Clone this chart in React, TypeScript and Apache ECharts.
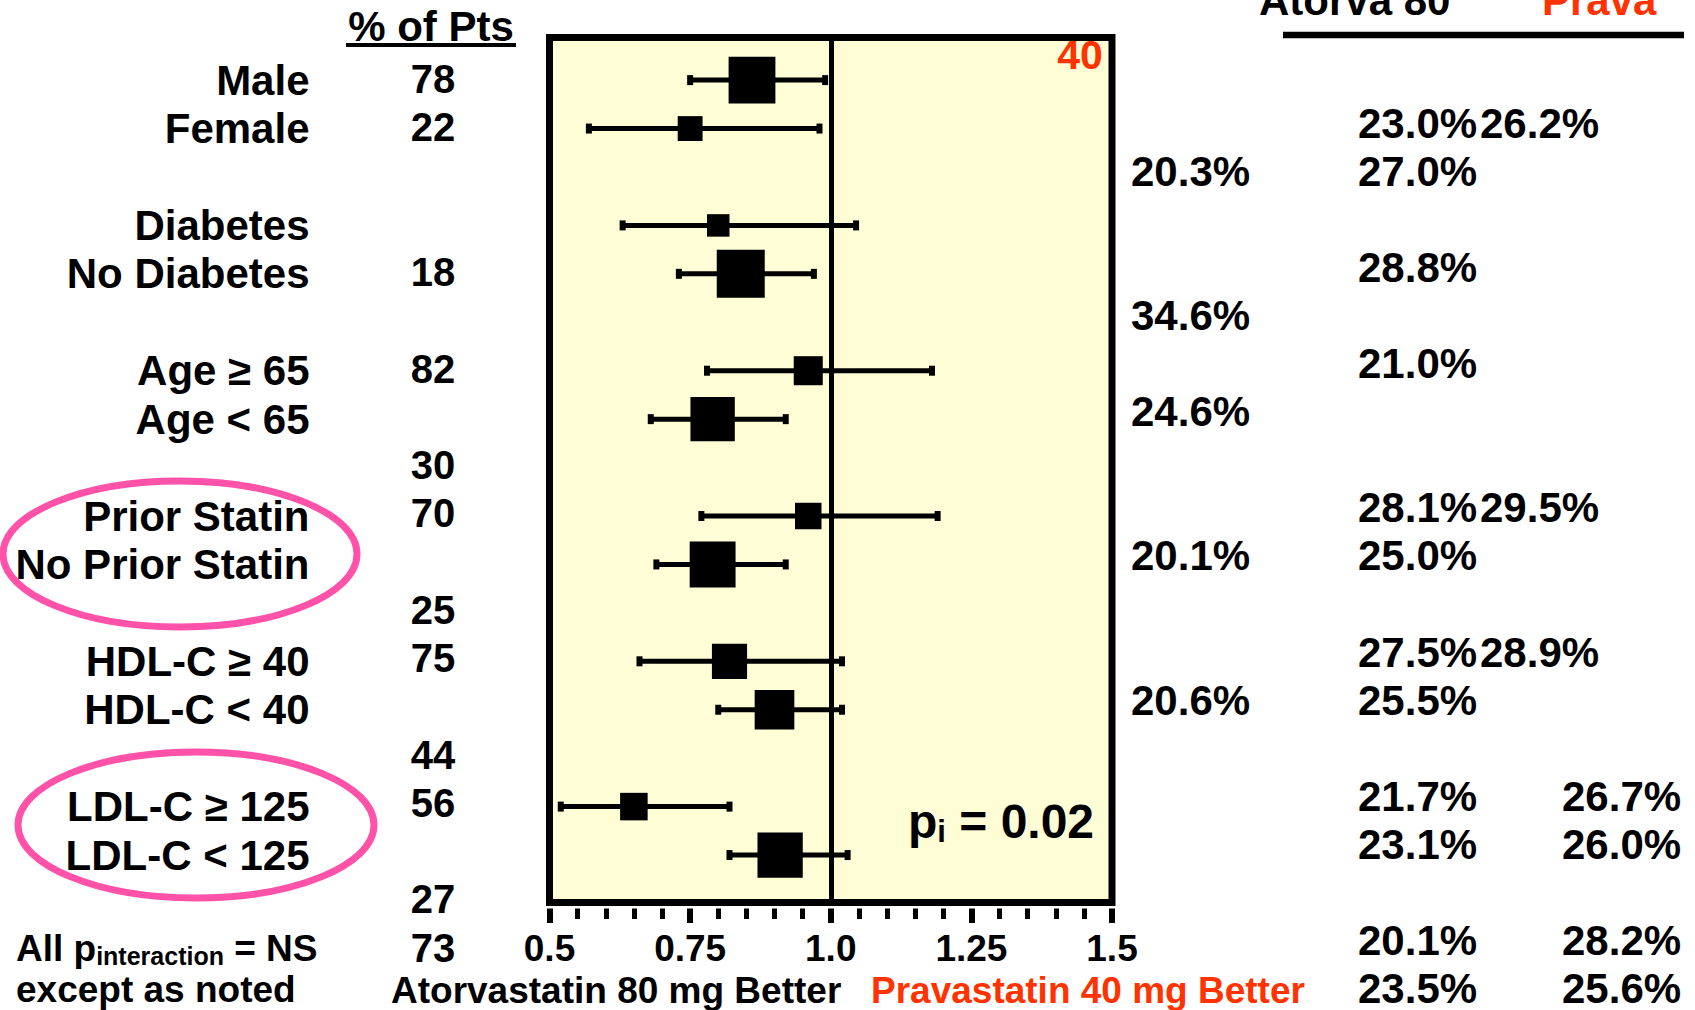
import React, { useEffect, useRef } from "react";
import * as echarts from "echarts";

// ---- Data -----------------------------------------------------------------

// Subgroups, top to bottom
const subgroups = [
  "Male",
  "Female",
  "Diabetes",
  "No Diabetes",
  "Age ≥ 65",
  "Age < 65",
  "Prior Statin",
  "No Prior Statin",
  "HDL-C ≥ 40",
  "HDL-C < 40",
  "LDL-C ≥ 125",
  "LDL-C < 125",
];
// Row slot of each subgroup on the vertical axis (a blank slot separates pairs)
const rowSlots = [0, 1, 3, 4, 6, 7, 9, 10, 12, 13, 15, 16];
// Hazard ratio (Atorvastatin 80 vs Pravastatin 40) with 95% CI
const hazardRatio = [0.86, 0.75, 0.8, 0.84, 0.96, 0.79, 0.96, 0.79, 0.82, 0.9, 0.65, 0.91];
const ciLower = [0.75, 0.57, 0.63, 0.73, 0.78, 0.68, 0.77, 0.69, 0.66, 0.8, 0.52, 0.82];
const ciUpper = [0.99, 0.98, 1.045, 0.97, 1.18, 0.92, 1.19, 0.92, 1.02, 1.02, 0.82, 1.03];
// Share of patients in each subgroup
const pctOfPts = [78, 22, 18, 82, 30, 70, 25, 75, 44, 56, 27, 73];

const xTickLabels = ["0.5", "0.75", "1.0", "1.25", "1.5"];

// Event-rate columns
const ratesColA = ["20.3%", "34.6%", "24.6%", "20.1%", "20.6%"];
const ratesColB = [
  "23.0%", "27.0%", "28.8%", "21.0%", "28.1%", "25.0%",
  "27.5%", "25.5%", "21.7%", "23.1%", "20.1%", "23.5%",
];
const ratesColB2 = ["26.2%", "29.5%", "28.9%"];
const ratesColC = ["26.7%", "26.0%", "28.2%", "25.6%"];

// ---- Layout ---------------------------------------------------------------

const FONT = '"Liberation Sans", Arial, Helvetica, sans-serif';
const RED = "#FF3300";
const PINK = "#FF52A8";
const PCT_STEP = 48.25;
const RATE_STEP = 48.1;

// text-line indices for the side columns
const pctLines = [0, 1, 4, 6, 8, 9, 11, 12, 14, 15, 17, 18];
const colALines = [1, 4, 6, 9, 12];
const colBLines = [0, 1, 3, 5, 8, 9, 11, 12, 14, 15, 17, 18];
const colB2Lines = [0, 8, 11];
const colCLines = [14, 15, 17, 18];

const PCT_BASE = 79;
const RATE_BASE = 123;

type TextOpts = { color?: string; align?: "left" | "center" | "right" };

function txt(text: string, x: number, y: number, size: number, opts: TextOpts = {}) {
  const align = opts.align || "left";
  return {
    type: "text",
    x,
    y,
    silent: true,
    style: {
      text,
      fill: opts.color || "#000",
      fontSize: size,
      fontWeight: "bold",
      fontFamily: FONT,
      lineHeight: Math.round(size * 0.85),
      align,
      verticalAlign: "middle",
      textAlign: align,
      textVerticalAlign: "middle",
    },
  };
}

function subscriptText(main1: string, sub: string, main2: string, x: number, y: number, size: number, subSize: number, lh: number, subLh: number) {
  const base = { fontSize: size, fontWeight: "bold", fontFamily: FONT, fill: "#000", lineHeight: lh };
  return {
    type: "text",
    x,
    y,
    silent: true,
    style: {
      text: `{m|${main1}}{s|${sub}}{m|${main2}}`,
      fill: "#000",
      align: "left",
      verticalAlign: "middle",
      textAlign: "left",
      textVerticalAlign: "middle",
      rich: {
        m: base,
        s: { fontSize: subSize, fontWeight: "bold", fontFamily: FONT, fill: "#000", lineHeight: subLh, verticalAlign: "bottom" },
      },
    },
  };
}

function renderErrorBar(params: any, api: any) {
  const slot = api.value(0);
  const a = api.coord([api.value(1), slot]);
  const b = api.coord([api.value(2), slot]);
  const capW = 6;
  const capH = 10;
  return {
    type: "group",
    children: [
      { type: "line", shape: { x1: a[0], y1: a[1], x2: b[0], y2: b[1] }, style: { stroke: "#000", lineWidth: 5 } },
      { type: "rect", shape: { x: a[0] - capW / 2, y: a[1] - capH / 2, width: capW, height: capH }, style: { fill: "#000" } },
      { type: "rect", shape: { x: b[0] - capW / 2, y: b[1] - capH / 2, width: capW, height: capH }, style: { fill: "#000" } },
    ],
  };
}

function buildOption() {
  const graphic: any[] = [];

  // "% of Pts" column
  graphic.push(txt("% of Pts", 431, 26, 42, { align: "center" }));
  graphic.push({ type: "line", silent: true, shape: { x1: 346, y1: 45, x2: 516, y2: 45 }, style: { stroke: "#000", lineWidth: 4 } });
  pctOfPts.forEach((p, i) => graphic.push(txt(String(p), 433, PCT_BASE + PCT_STEP * pctLines[i], 40, { align: "center" })));

  // highlight rings around the statin and LDL subgroups
  graphic.push({ type: "ellipse", silent: true, shape: { cx: 180, cy: 554, rx: 177, ry: 73 }, style: { fill: "none", stroke: PINK, lineWidth: 7 } });
  graphic.push({ type: "ellipse", silent: true, shape: { cx: 196, cy: 825, rx: 178, ry: 73 }, style: { fill: "none", stroke: PINK, lineWidth: 7 } });

  // in-plot annotations
  graphic.push(txt("40", 1080, 55, 41, { align: "center", color: RED }));
  graphic.push(subscriptText("p", "i", " = 0.02", 908, 821, 48, 31, 52, 16));

  // event-rate table
  graphic.push(txt("Atorva 80", 1259, 0, 42));
  graphic.push(txt("Prava", 1542, 0, 42, { color: RED }));
  graphic.push({ type: "line", silent: true, shape: { x1: 1283, y1: 35, x2: 1684, y2: 35 }, style: { stroke: "#000", lineWidth: 6.5 } });
  ratesColA.forEach((t, i) => graphic.push(txt(t, 1131, RATE_BASE + RATE_STEP * colALines[i], 42)));
  ratesColB.forEach((t, i) => graphic.push(txt(t, 1358, RATE_BASE + RATE_STEP * colBLines[i], 42)));
  ratesColB2.forEach((t, i) => graphic.push(txt(t, 1480, RATE_BASE + RATE_STEP * colB2Lines[i], 42)));
  ratesColC.forEach((t, i) => graphic.push(txt(t, 1562, RATE_BASE + RATE_STEP * colCLines[i], 42)));

  // footnote and axis captions
  graphic.push(subscriptText("All p", "interaction", " = NS", 16, 948, 37, 25, 40, 14));
  graphic.push(txt("except as noted", 16, 989, 37));
  graphic.push(txt("Atorvastatin 80 mg Better", 391, 990, 37));
  graphic.push(txt("Pravastatin 40 mg Better", 871, 990, 37, { color: RED }));

  return {
    animation: false,
    backgroundColor: "#ffffff",
    grid: {
      left: 549.5,
      top: 37.5,
      width: 562.5,
      height: 865,
      show: true,
      backgroundColor: "#FFFDD6",
      borderColor: "#000",
      borderWidth: 7,
      containLabel: false,
      outerBoundsMode: "none",
    },
    xAxis: {
      type: "value",
      position: "bottom",
      min: 0.5,
      max: 1.5,
      interval: 0.25,
      offset: 6,
      axisLine: { show: false, onZero: false },
      axisTick: { show: true, length: 14.5, lineStyle: { color: "#000", width: 6 } },
      minorTick: { show: true, splitNumber: 5, length: 10.5, lineStyle: { color: "#000", width: 5 } },
      splitLine: { show: false },
      minorSplitLine: { show: false },
      axisLabel: {
        margin: 21,
        fontSize: 37,
        fontWeight: "bold",
        fontFamily: FONT,
        color: "#000",
        formatter: (_v: number, idx: number) => xTickLabels[idx] ?? "",
      },
    },
    yAxis: {
      type: "value",
      inverse: true,
      min: -0.88,
      max: 16.98,
      axisLine: { show: false, onZero: false },
      axisTick: { show: false },
      splitLine: { show: false },
      axisLabel: {
        customValues: rowSlots,
        margin: 240,
        fontSize: 42,
        fontWeight: "bold",
        fontFamily: FONT,
        color: "#000",
        formatter: (v: number) => {
          const i = rowSlots.indexOf(v);
          return i >= 0 ? subgroups[i] : "";
        },
      },
    },
    series: [
      {
        type: "custom",
        name: "95% CI",
        renderItem: renderErrorBar,
        encode: { x: [1, 2], y: 0 },
        data: rowSlots.map((s, i) => [s, ciLower[i], ciUpper[i]]),
        z: 2,
        silent: true,
        markLine: {
          silent: true,
          symbol: ["none", "none"],
          label: { show: false },
          lineStyle: { color: "#000", width: 5, type: "solid" },
          data: [{ xAxis: 1 }],
        },
      },
      {
        type: "scatter",
        name: "Hazard ratio",
        symbol: "rect",
        data: rowSlots.map((s, i) => [hazardRatio[i], s, pctOfPts[i]]),
        symbolSize: (d: number[]) => 5.3 * Math.sqrt(d[2]),
        itemStyle: { color: "#000", opacity: 1 },
        z: 3,
        silent: true,
      },
    ],
    graphic,
  };
}

export default function App() {
  const ref = useRef<HTMLDivElement>(null);
  useEffect(() => {
    if (!ref.current) return;
    const chart = echarts.init(ref.current, undefined, { renderer: "svg" });
    chart.setOption(buildOption() as any);
    return () => chart.dispose();
  }, []);
  return (
    <div
      ref={ref}
      style={{ position: "absolute", left: 0, top: 0, width: 1695, height: 1010, background: "#fff" }}
    />
  );
}
